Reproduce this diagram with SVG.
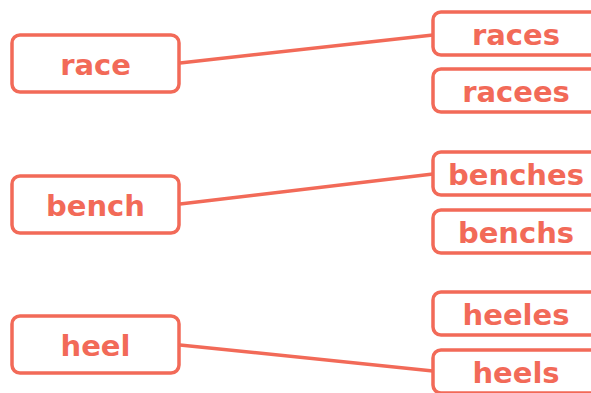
<svg xmlns="http://www.w3.org/2000/svg" width="591" height="393" viewBox="0 0 591 393">
<style>
.box{fill:#fff;stroke:#F26A58;stroke-width:3.5}
.t{fill:#F26A58;font-family:"DejaVu Sans",sans-serif;font-weight:bold;font-size:29px;text-anchor:middle}
.c{stroke:#F26A58;stroke-width:3.5;fill:none}
</style>
<g id="connectors">
<line class="c" x1="180" y1="63" x2="433" y2="35"/>
<line class="c" x1="180" y1="204" x2="433" y2="174"/>
<line class="c" x1="180" y1="345" x2="433" y2="371"/>
</g>
<g id="n-race"><rect class="box" x="12" y="35" width="167" height="57" rx="8"/><text class="t" x="95.5" y="75">race</text></g>
<g id="n-bench"><rect class="box" x="12" y="176" width="167" height="57" rx="8"/><text class="t" x="95.5" y="216">bench</text></g>
<g id="n-heel"><rect class="box" x="12" y="316" width="167" height="57" rx="8"/><text class="t" x="95.5" y="356">heel</text></g>
<g id="n-races"><rect class="box" x="433" y="12" width="168" height="43" rx="8"/><text class="t" x="516" y="45">races</text></g>
<g id="n-racees"><rect class="box" x="433" y="69" width="168" height="43" rx="8"/><text class="t" x="516" y="102">racees</text></g>
<g id="n-benches"><rect class="box" x="433" y="152" width="168" height="43" rx="8"/><text class="t" x="516" y="185">benches</text></g>
<g id="n-benchs"><rect class="box" x="433" y="210" width="168" height="43" rx="8"/><text class="t" x="516" y="243">benchs</text></g>
<g id="n-heeles"><rect class="box" x="433" y="292" width="168" height="43" rx="8"/><text class="t" x="516" y="325">heeles</text></g>
<g id="n-heels"><rect class="box" x="433" y="350" width="168" height="43" rx="8"/><text class="t" x="516" y="383">heels</text></g>
</svg>
